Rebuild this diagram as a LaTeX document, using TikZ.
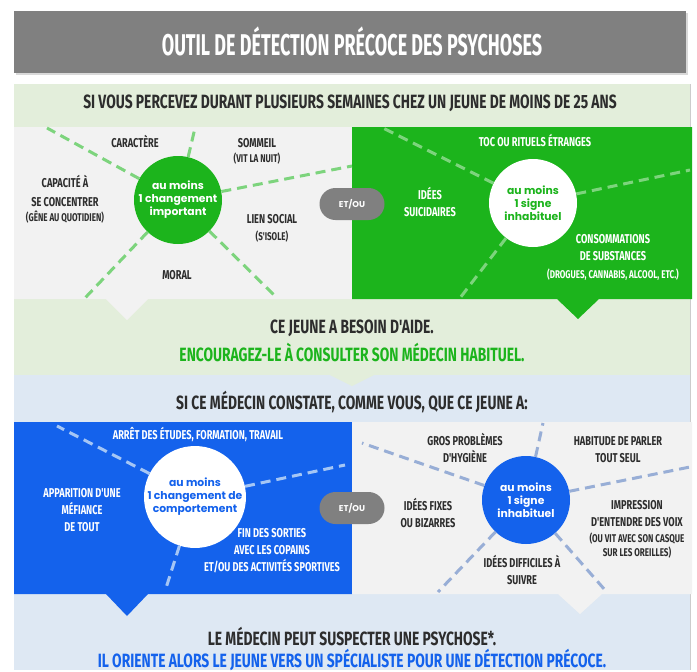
\documentclass[tikz,border=0pt]{standalone}
\usepackage{fontspec}
\setmainfont{Fira Sans}
\newfontfamily\condfont[FakeStretch=0.72]{Fira Sans}
\newfontfamily\titlefont[FakeStretch=0.6]{Fira Sans}
\newfontfamily\roundfont{Poppins}
\newcommand{\smtxt}{\fontsize{11.2}{13}\selectfont}

\definecolor{titlegray}{RGB}{128,128,128}
\definecolor{panelgreen}{RGB}{227,238,219}
\definecolor{boxgray}{RGB}{242,242,242}
\definecolor{vivgreen}{RGB}{28,180,28}
\definecolor{dashgreen}{RGB}{125,212,125}
\definecolor{panelblue}{RGB}{222,232,243}
\definecolor{vivblue}{RGB}{20,98,236}
\definecolor{dashblue}{RGB}{165,198,245}
\definecolor{dashslate}{RGB}{152,174,214}
\definecolor{textdark}{RGB}{45,45,45}

\tikzset{
  lab/.style={font=\condfont\bfseries\fontsize{12.8}{17}\selectfont, text=textdark, align=center, inner sep=0pt},
  wlab/.style={lab, text=white},
  head/.style={font=\condfont\bfseries\fontsize{19.2}{21}\selectfont, text=textdark, inner sep=0pt},
  spoke/.style={line width=3pt, dash pattern=on 10pt off 6pt},
  hub/.style={circle, minimum size=88pt, inner sep=0pt, align=center, font=\roundfont\bfseries\fontsize{10.8}{13}\selectfont},
  pill/.style={rectangle, rounded corners=16pt, fill=titlegray, minimum width=65pt, minimum height=32pt, text=white, font=\roundfont\bfseries\fontsize{8.5}{9}\selectfont}
}

\begin{document}
\begin{tikzpicture}[x=1pt,y=-1pt]
\useasboundingbox (0,0) rectangle (697,672);
\fill[white] (0,0) rectangle (697,672);

% title
\fill[black!15] (16,13) rectangle (688,75);
\fill[titlegray] (14,11) rectangle (686,73);
\node[font=\titlefont\bfseries\fontsize{30}{32}\selectfont, text=white, inner sep=0pt] (title) at (352,41) {OUTIL DE DÉTECTION PRÉCOCE DES PSYCHOSES};

% panels
\fill[panelgreen] (14,84) rectangle (690,375);
\fill[panelblue] (14,375) rectangle (690,670);
\draw[black!20] (690,84) -- (690,670);
\fill[panelgreen] (330,375) -- (352,386) -- (374,375) -- cycle;

% boxes with pointers
\fill[boxgray] (14,127) -- (352,127) -- (352,299) -- (148,299) -- (127,320) -- (106,299) -- (14,299) -- cycle;
\fill[vivgreen] (352,127) -- (692,127) -- (692,299) -- (599,299) -- (578,319) -- (557,299) -- (352,299) -- cycle;
\fill[vivblue] (14,422) -- (352,422) -- (352,594) -- (148,594) -- (127,616) -- (106,594) -- (14,594) -- cycle;
\fill[boxgray] (352,422) -- (692,422) -- (692,594) -- (602,594) -- (580,614) -- (558,594) -- (352,594) -- cycle;

% headers
\node[head] (percu) at (350,103) {SI VOUS PERCEVEZ DURANT PLUSIEURS SEMAINES CHEZ UN JEUNE DE MOINS DE 25 ANS};
\node[head] (aide) at (352,328) {CE JEUNE A BESOIN D'AIDE.};
\node[head, text=vivgreen] (consult) at (352,352) {ENCOURAGEZ-LE À CONSULTER SON MÉDECIN HABITUEL.};
\node[head] (constat) at (352,402) {SI CE MÉDECIN CONSTATE, COMME VOUS, QUE CE JEUNE A:};
\node[head] (suspect) at (352,636) {LE MÉDECIN PEUT SUSPECTER UNE PSYCHOSE*.};
\node[head, text=vivblue] (oriente) at (352,660) {IL ORIENTE ALORS LE JEUNE VERS UN SPÉCIALISTE POUR UNE DÉTECTION PRÉCOCE.};

% hubs
\node[hub, fill=vivgreen, text=white] (chg) at (178,200) {au moins\\1 changement\\important};
\node[hub, fill=white, text=vivgreen] (sig) at (533,203) {au moins\\1 signe\\inhabituel};
\node[hub, fill=white, text=vivblue] (comp) at (195,497) {au moins\\1 changement de\\comportement};
\node[hub, fill=vivblue, text=white] (inh) at (526,500) {au moins\\1 signe\\inhabituel};

% spoke ends
\coordinate (g1) at (47,128);  \coordinate (g2) at (195,128); \coordinate (g3) at (352,166);
\coordinate (g4) at (85,298);  \coordinate (g5) at (277,298);
\coordinate (v1) at (383,128); \coordinate (v2) at (690,170); \coordinate (v3) at (460,298);
\coordinate (b1) at (57,426);  \coordinate (b2) at (345,465); \coordinate (b3) at (166,588);
\coordinate (c1) at (362,443); \coordinate (c2) at (543,423); \coordinate (c3) at (690,467);
\coordinate (c4) at (438,592); \coordinate (c5) at (605,590);

\foreach \e in {g1,g2,g3,g4,g5} \draw[spoke, dashgreen] (chg) -- (\e);
\foreach \e in {v1,v2,v3} \draw[spoke, dashgreen] (sig) -- (\e);
\foreach \e in {b1,b2,b3} \draw[spoke, dashblue] (comp) -- (\e);
\foreach \e in {c1,c2,c3,c4,c5} \draw[spoke, dashslate] (inh) -- (\e);

% labels, first box
\node[lab] (caract) at (135,141) {CARACTÈRE};
\node[lab] (sommeil) at (257,151) {SOMMEIL\\[-2pt]{\smtxt (VIT LA NUIT)}};
\node[lab] (capac) at (65,199) {CAPACITÉ À\\[2pt]SE CONCENTRER\\[-2pt]{\smtxt (GÊNE AU QUOTIDIEN)}};
\node[lab] (lien) at (272,228) {LIEN SOCIAL\\{\smtxt (S'ISOLE)}};
\node[lab] (moral) at (177,275) {MORAL};

% labels, green box
\node[wlab] (toc) at (535,140) {TOC OU RITUELS ÉTRANGES};
\node[wlab] (suic) at (430,202) {IDÉES\\SUICIDAIRES};
\node[wlab] (conso) at (613,257) {CONSOMMATIONS\\DE SUBSTANCES\\[1pt]{\smtxt (DROGUES, CANNABIS, ALCOOL, ETC.)}};

% labels, blue box
\node[wlab] (arret) at (198,435) {ARRÊT DES ÉTUDES, FORMATION, TRAVAIL};
\node[wlab] (mefi) at (82,510) {APPARITION D'UNE\\MÉFIANCE\\DE TOUT};
\node[wlab] (sorties) at (272,551) {FIN DES SORTIES\\AVEC LES COPAINS\\ET/OU DES ACTIVITÉS SPORTIVES};

% labels, last box
\node[lab] (hyg) at (465,448) {GROS PROBLÈMES\\D'HYGIÈNE};
\node[lab] (parler) at (618,450) {HABITUDE DE PARLER\\TOUT SEUL};
\node[lab] (fixes) at (428,513) {IDÉES FIXES\\OU BIZARRES};
\node[lab] (voix) at (637,529) {IMPRESSION\\D'ENTENDRE DES VOIX\\[-1pt]{\smtxt (OU VIT AVEC SON CASQUE}\\[-3pt]{\smtxt SUR LES OREILLES)}};
\node[lab] (suivre) at (522,570) {IDÉES DIFFICILES À\\SUIVRE};

% et/ou
\node[pill] (et1) at (352,204) {ET/OU};
\node[pill] (et2) at (352,508) {ET/OU};
\end{tikzpicture}
\end{document}
